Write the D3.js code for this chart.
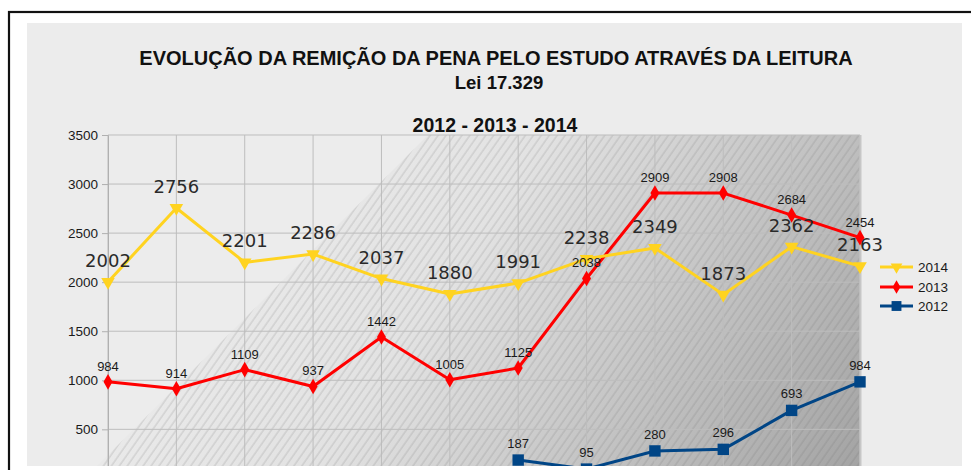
<!DOCTYPE html>
<html>
<head>
<meta charset="utf-8">
<script src="https://cdn.jsdelivr.net/npm/d3@7"></script>
<style>
  body { margin: 0; background: #ffffff; }
  svg { display: block; }
</style>
</head>
<body>
<script>
// chart data
var months = ["Jan", "Fev", "Mar", "Abr", "Mai", "Jun", "Jul", "Ago", "Set", "Out", "Nov", "Dez"];
var values2014 = [2002, 2756, 2201, 2286, 2037, 1880, 1991, 2238, 2349, 1873, 2362, 2163];
var values2013 = [984, 914, 1109, 937, 1442, 1005, 1125, 2038, 2909, 2908, 2684, 2454];
var values2012 = [null, null, null, null, null, null, 187, 95, 280, 296, 693, 984];
var yTicks = [500, 1000, 1500, 2000, 2500, 3000, 3500];

var arial = "'Liberation Sans', Arial, sans-serif";

function put() {
  var svgWidth = 971;
  var svgHeight = 470;

  // plot area (y = 0 falls just below the visible picture)
  var plot = {left: 108, right: 860, top: 135, bottom: 478.4};
  var visibleBottom = 466;

  var svg = d3.select("body")
    .append("svg")
    .attr("width", svgWidth)
    .attr("height", svgHeight);

  var defs = svg.append("defs");

  // gradient for the hatched background
  var grad = defs.append("linearGradient")
    .attr("id", "bgGrad")
    .attr("gradientUnits", "userSpaceOnUse")
    .attr("x1", plot.left).attr("y1", plot.top)
    .attr("x2", 772).attr("y2", 593);
  grad.append("stop").attr("offset", 0).attr("stop-color", "#f0f0f0");
  grad.append("stop").attr("offset", 0.45).attr("stop-color", "#e2e2e2");
  grad.append("stop").attr("offset", 1).attr("stop-color", "#a4a4a4");

  // diagonal hatch
  var pat = defs.append("pattern")
    .attr("id", "hatch")
    .attr("patternUnits", "userSpaceOnUse")
    .attr("width", 6.5).attr("height", 10)
    .attr("patternTransform", "rotate(35)");
  pat.append("line")
    .attr("x1", 1).attr("y1", 0).attr("x2", 1).attr("y2", 10)
    .attr("stroke", "#666")
    .attr("stroke-opacity", 0.35)
    .attr("stroke-width", 0.8);

  // outer frame
  svg.append("rect")
    .attr("x", 9).attr("y", 12)
    .attr("width", 1000).attr("height", 500)
    .attr("fill", "#ffffff")
    .attr("stroke", "#111")
    .attr("stroke-width", 2.2);

  // chart background
  svg.append("rect")
    .attr("x", 27).attr("y", 23)
    .attr("width", 935).attr("height", visibleBottom - 23)
    .attr("fill", "#ececec");

  // hatched region to the lower right
  var hatchPoly = [[97, visibleBottom], [428, plot.top], [plot.right, plot.top], [plot.right, visibleBottom]];
  var polyStr = hatchPoly.map(function(p) { return p.join(","); }).join(" ");
  svg.append("polygon").attr("points", polyStr).attr("fill", "url(#bgGrad)");
  svg.append("polygon").attr("points", polyStr).attr("fill", "url(#hatch)");

  // scales
  var xScale = d3.scalePoint().domain(months).range([plot.left, plot.right]);
  var yScale = d3.scaleLinear().domain([0, 3500]).range([plot.bottom, plot.top]);

  defs.append("clipPath").attr("id", "clipVis")
    .append("rect")
    .attr("x", 0).attr("y", 0)
    .attr("width", svgWidth).attr("height", visibleBottom);

  var chart = svg.append("g").attr("clip-path", "url(#clipVis)");

  // grid
  chart.append("g")
    .selectAll("line")
    .data(months)
    .enter()
    .append("line")
    .attr("x1", function(d) { return xScale(d); })
    .attr("x2", function(d) { return xScale(d); })
    .attr("y1", plot.top)
    .attr("y2", visibleBottom)
    .attr("stroke", "#bdbdbd")
    .attr("stroke-width", 1);

  chart.append("g")
    .selectAll("line")
    .data(yTicks)
    .enter()
    .append("line")
    .attr("x1", plot.left)
    .attr("x2", plot.right)
    .attr("y1", function(d) { return yScale(d); })
    .attr("y2", function(d) { return yScale(d); })
    .attr("stroke", "#bdbdbd")
    .attr("stroke-width", 1);

  // light edge on the right of the plot
  chart.append("line")
    .attr("x1", plot.right + 0.5).attr("x2", plot.right + 0.5)
    .attr("y1", plot.top).attr("y2", visibleBottom)
    .attr("stroke", "#c6c6c6")
    .attr("stroke-width", 2);

  // y axis
  var yAxis = d3.axisLeft(yScale).tickValues(yTicks).tickFormat(d3.format("d")).tickSize(6).tickPadding(4);
  var yg = chart.append("g")
    .attr("transform", "translate(" + plot.left + ",0)")
    .call(yAxis);
  yg.select(".domain").attr("stroke", "#b0b0b0");
  yg.selectAll(".tick line").attr("stroke", "#b0b0b0");
  yg.selectAll(".tick text")
    .style("font-family", arial)
    .style("font-size", "13.5px")
    .attr("fill", "#1a1a1a");

  // series
  var series = [
    {name: "2014", values: values2014, color: "#ffd320", symbol: d3.symbolTriangle, size: 80, rot: 180,
      labelFont: "'DejaVu Sans', Verdana, sans-serif", labelSize: 18, labelDy: -15, labelColor: "#2a2a2a"},
    {name: "2013", values: values2013, color: "#ff0000", symbol: d3.symbolDiamond, size: 70, rot: 0,
      labelFont: arial, labelSize: 13, labelDy: -11, labelColor: "#1a1a1a"},
    {name: "2012", values: values2012, color: "#004586", symbol: d3.symbolSquare, size: 130, rot: 0,
      labelFont: arial, labelSize: 13, labelDy: -12, labelColor: "#1a1a1a"}
  ];

  var line = d3.line()
    .defined(function(d) { return d.v !== null; })
    .x(function(d) { return xScale(d.m); })
    .y(function(d) { return yScale(d.v); });

  // draw bottom series first
  series.slice().reverse().forEach(function(s) {
    var pts = s.values.map(function(v, i) { return {m: months[i], v: v}; });
    chart.append("path")
      .datum(pts)
      .attr("d", line)
      .attr("fill", "none")
      .attr("stroke", s.color)
      .attr("stroke-width", 3)
      .attr("stroke-linejoin", "round");

    var sym = d3.symbol().type(s.symbol).size(s.size);
    chart.append("g")
      .selectAll("path")
      .data(pts.filter(function(d) { return d.v !== null; }))
      .enter()
      .append("path")
      .attr("d", sym)
      .attr("transform", function(d) {
        return "translate(" + xScale(d.m) + "," + yScale(d.v) + ") rotate(" + s.rot + ")";
      })
      .attr("fill", s.color);
  });

  // value labels
  series.slice().reverse().forEach(function(s) {
    var pts = s.values.map(function(v, i) { return {m: months[i], v: v}; });
    chart.append("g")
      .selectAll("text")
      .data(pts.filter(function(d) { return d.v !== null; }))
      .enter()
      .append("text")
      .attr("x", function(d) { return xScale(d.m); })
      .attr("y", function(d) { return yScale(d.v) + s.labelDy; })
      .attr("text-anchor", "middle")
      .style("font-family", s.labelFont)
      .style("font-size", s.labelSize + "px")
      .attr("fill", s.labelColor)
      .text(function(d) { return d.v; });
  });

  // legend
  var legend = svg.append("g").attr("transform", "translate(880,0)");
  var legendY = [267, 287, 306];
  series.forEach(function(s, i) {
    var g = legend.append("g").attr("transform", "translate(0," + legendY[i] + ")");
    g.append("line")
      .attr("x1", 0).attr("x2", 33)
      .attr("stroke", s.color)
      .attr("stroke-width", 3);
    g.append("path")
      .attr("d", d3.symbol().type(s.symbol).size(s.size * 0.75))
      .attr("transform", "translate(16.5,0) rotate(" + s.rot + ")")
      .attr("fill", s.color);
    g.append("text")
      .attr("x", 38)
      .attr("y", 5)
      .style("font-family", arial)
      .style("font-size", "13.5px")
      .attr("fill", "#1a1a1a")
      .text(s.name);
  });

  // titles
  var titles = [
    {text: "EVOLUÇÃO DA REMIÇÃO DA PENA PELO ESTUDO ATRAVÉS DA LEITURA", x: 496, y: 65, size: 20},
    {text: "Lei 17.329", x: 499, y: 89, size: 18.5},
    {text: "2012 - 2013 - 2014", x: 495, y: 132, size: 19.5}
  ];
  svg.append("g")
    .selectAll("text")
    .data(titles)
    .enter()
    .append("text")
    .attr("x", function(d) { return d.x; })
    .attr("y", function(d) { return d.y; })
    .attr("text-anchor", "middle")
    .style("font-family", arial)
    .style("font-weight", "bold")
    .style("font-size", function(d) { return d.size + "px"; })
    .attr("fill", "#111")
    .text(function(d) { return d.text; });
}

window.onload = put;
</script>
</body>
</html>
